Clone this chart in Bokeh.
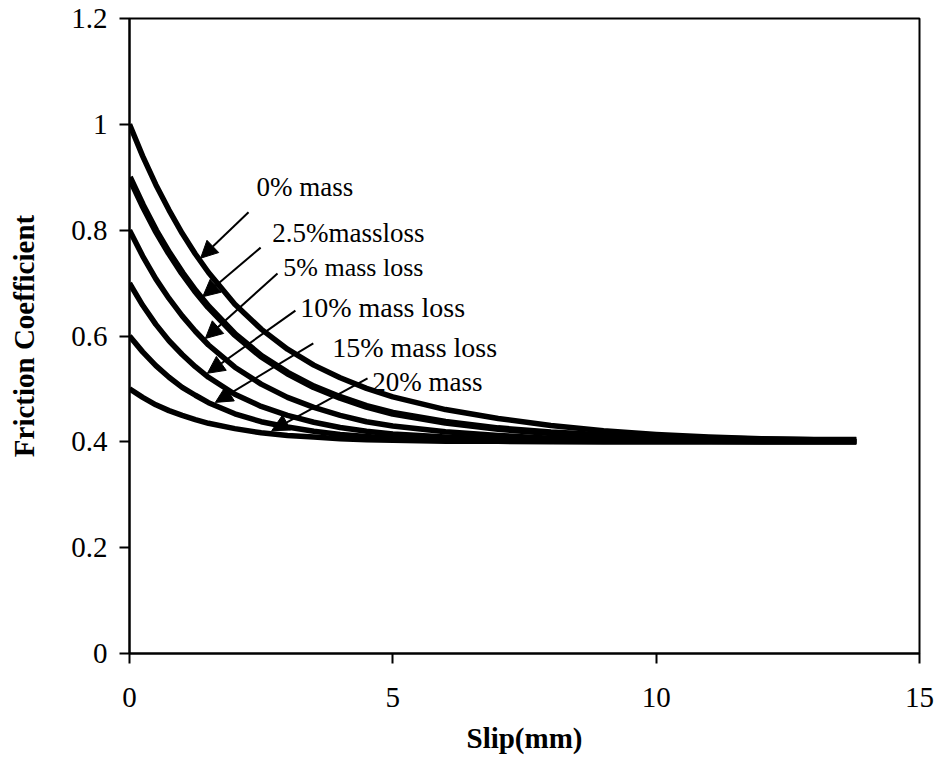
import numpy as np
from bokeh.plotting import figure
from bokeh.models import Range1d, FixedTicker, Label, Arrow, NormalHead
from bokeh.embed import file_html
from bokeh.resources import INLINE

# ---- data ----
slip = [0, 0.25, 0.5, 0.75, 1, 1.25, 1.5, 2, 2.5, 3, 3.5, 4, 4.5, 5,
        6, 7, 8, 9, 10, 11, 12, 13, 13.8]

mu_0 = [1.000, 0.940, 0.886, 0.838, 0.794, 0.755, 0.720, 0.660, 0.613, 0.575,
        0.545, 0.521, 0.501, 0.485, 0.461, 0.444, 0.431, 0.421, 0.414, 0.409,
        0.406, 0.404, 0.404]
mu_2_5 = [0.900, 0.847, 0.799, 0.757, 0.719, 0.685, 0.655, 0.603, 0.562, 0.530,
          0.504, 0.484, 0.467, 0.454, 0.437, 0.425, 0.417, 0.412, 0.408, 0.406,
          0.404, 0.403, 0.403]
mu_5 = [0.800, 0.751, 0.708, 0.671, 0.638, 0.609, 0.583, 0.541, 0.509, 0.484,
        0.465, 0.450, 0.438, 0.430, 0.419, 0.412, 0.407, 0.405, 0.403, 0.402,
        0.402, 0.401, 0.401]
mu_10 = [0.700, 0.658, 0.622, 0.591, 0.565, 0.542, 0.522, 0.490, 0.467, 0.450,
         0.437, 0.427, 0.420, 0.415, 0.409, 0.405, 0.403, 0.402, 0.401, 0.401,
         0.400, 0.400, 0.400]
mu_15 = [0.600, 0.570, 0.544, 0.522, 0.503, 0.488, 0.474, 0.453, 0.438, 0.428,
         0.420, 0.414, 0.410, 0.407, 0.404, 0.402, 0.401, 0.400, 0.400, 0.400,
         0.400, 0.400, 0.400]
mu_20 = [0.500, 0.484, 0.470, 0.459, 0.450, 0.442, 0.435, 0.425, 0.417, 0.412,
         0.409, 0.406, 0.404, 0.403, 0.401, 0.401, 0.400, 0.400, 0.400, 0.400,
         0.400, 0.400, 0.400]

series = [mu_0, mu_2_5, mu_5, mu_10, mu_15, mu_20]
series_labels = ["0% mass", "2.5%massloss", "5% mass loss", "10% mass loss",
                 "15% mass loss", "20% mass"]

x_ticks = [0, 5, 10, 15]
x_tick_labels = ["0", "5", "10", "15"]
y_ticks = [0, 0.2, 0.4, 0.6, 0.8, 1, 1.2]
y_tick_labels = ["0", "0.2", "0.4", "0.6", "0.8", "1", "1.2"]

# ---- annotation placement (label anchor, arrow tail, arrow tip x) ----
label_pos = [(2.41, 0.881), (2.71, 0.794), (2.92, 0.730), (3.24, 0.654),
             (3.85, 0.578), (4.61, 0.514)]
label_size = ["27px", "27px", "26px", "28px", "28px", "27px"]
arrow_tail = [(2.26, 0.834), (2.49, 0.767), (2.81, 0.718), (3.15, 0.648),
              (3.49, 0.586), (4.52, 0.520)]
arrow_tip_x = [1.35, 1.39, 1.44, 1.48, 1.63, 2.70]
line_widths = [5.5, 7, 5.5, 5.5, 5.5, 5.5]

FONT = "Liberation Serif"

p = figure(width=939, height=771, x_range=Range1d(0, 15), y_range=Range1d(0, 1.2),
           output_backend="svg", toolbar_location=None,
           min_border_left=129, min_border_right=20, min_border_top=18,
           min_border_bottom=118)
p.grid.visible = False
p.outline_line_color = "black"
p.outline_line_width = 2
p.background_fill_color = "white"
p.border_fill_color = "white"

p.xaxis.ticker = FixedTicker(ticks=x_ticks)
p.yaxis.ticker = FixedTicker(ticks=y_ticks)
p.xaxis.major_label_overrides = dict(zip(x_ticks, x_tick_labels))
p.yaxis.major_label_overrides = dict(zip(y_ticks, y_tick_labels))

for ax in (p.xaxis, p.yaxis):
    ax.axis_line_width = 2
    ax.axis_line_color = "black"
    ax.major_tick_line_width = 2
    ax.major_tick_line_color = "black"
    ax.major_tick_out = 10
    ax.major_tick_in = 0
    ax.minor_tick_line_color = None
    ax.major_label_text_font = FONT
    ax.major_label_text_font_size = "29px"
    ax.major_label_text_color = "black"
    ax.axis_label_text_font = FONT
    ax.axis_label_text_font_size = "29px"
    ax.axis_label_text_font_style = "bold"
    ax.axis_label_text_color = "black"

p.xaxis.axis_label = "Slip(mm)"
p.yaxis.axis_label = "Friction Coefficient"
p.xaxis.major_label_standoff = 24
p.yaxis.major_label_standoff = 12
p.xaxis.axis_label_standoff = 12
p.yaxis.axis_label_standoff = 28

for ys, lw in zip(series, line_widths):
    p.line(slip, ys, line_width=lw, line_color="black", line_cap="butt",
           line_join="round")

for ys, text, (lx, ly), fs, (tx, ty), hx in zip(series, series_labels, label_pos,
                                                label_size, arrow_tail, arrow_tip_x):
    hy = float(np.interp(hx, slip, ys)) + 0.006
    p.add_layout(Arrow(end=NormalHead(size=17, fill_color="black", line_color="black"),
                       x_start=tx, y_start=ty, x_end=hx, y_end=hy,
                       line_width=2, line_color="black"))
    p.add_layout(Label(x=lx, y=ly, text=text, text_font=FONT, text_font_size=fs,
                       text_baseline="middle", text_align="left", text_color="black"))

open("out.html", "w").write(file_html(p, INLINE))
